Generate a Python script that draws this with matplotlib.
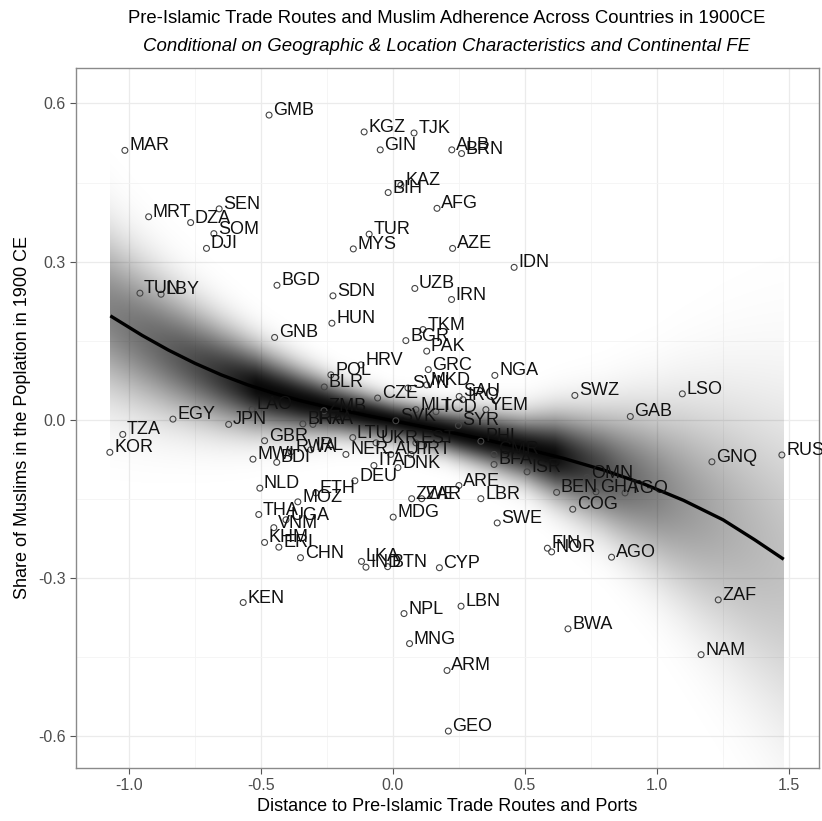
import numpy as np
import matplotlib
matplotlib.use("Agg")
import matplotlib.pyplot as plt

plt.rcParams['font.family'] = ['Liberation Sans', 'DejaVu Sans']
plt.rcParams['axes.unicode_minus'] = False

# country codes and (distance, muslim share)
iso = ["MAR", "GMB", "MRT", "DZA", "SEN", "SOM", "DJI", "KGZ", "TJK", "GIN",
       "ALB", "BRN", "KAZ", "BIH", "AFG", "TUR", "MYS", "AZE", "IDN", "IRN",
       "UZB", "SDN", "BGD", "GNB", "HUN", "TUN", "LBY", "TKM", "BGR", "PAK",
       "HRV", "POL", "BLR", "GRC", "NGA", "MKD", "SVN", "CZE", "SAU", "IRQ",
       "YEM", "SYR", "SWZ", "LSO", "GAB", "EGY", "TZA", "KOR", "JPN", "LAO",
       "GBR", "MWI", "BDI", "NLD", "THA", "KHM", "ERI", "CHN", "VNM", "UGA",
       "MOZ", "ETH", "DEU", "KEN", "PHL", "GNQ", "RUS", "OMN", "BEN", "GHA",
       "TGO", "COG", "SWE", "LBR", "ARE", "BFA", "ISR", "FIN", "NOR", "AGO",
       "ZAF", "CYP", "LBN", "NPL", "MNG", "ARM", "GEO", "BWA", "NAM", "BTN",
       "LKA", "IND", "MDG", "ZWE", "ZAR", "ZMB", "BRA", "FRA", "LTU", "RWA",
       "IRL", "NER", "SVK", "EST", "UKR", "PRT", "ITA", "DNK", "AUT", "MLI",
       "TCD", "CMR"]
dist = [-1.015, -0.469, -0.925, -0.766, -0.658, -0.678, -0.706, -0.109, 0.080, -0.048,
        0.223, 0.260, 0.030, -0.018, 0.167, -0.090, -0.150, 0.226, 0.459, 0.222,
        0.083, -0.227, -0.439, -0.448, -0.231, -0.958, -0.878, 0.114, 0.049, 0.128,
        -0.121, -0.235, -0.260, 0.134, 0.386, 0.128, 0.057, -0.058, 0.251, 0.265,
        0.352, 0.248, 0.689, 1.096, 0.899, -0.833, -1.023, -1.072, -0.622, -0.533,
        -0.486, -0.530, -0.440, -0.504, -0.508, -0.486, -0.432, -0.350, -0.451, -0.405,
        -0.360, -0.292, -0.144, -0.567, 0.333, 1.208, 1.473, 0.735, 0.620, 0.769,
        0.879, 0.681, 0.395, 0.333, 0.250, 0.383, 0.508, 0.585, 0.601, 0.828,
        1.232, 0.176, 0.258, 0.042, 0.063, 0.205, 0.210, 0.663, 1.167, -0.020,
        -0.119, -0.102, 0.001, 0.071, 0.109, -0.261, -0.341, -0.303, -0.152, -0.386,
        -0.311, -0.178, 0.011, 0.087, -0.064, 0.068, -0.072, 0.019, -0.008, 0.087,
        0.163, 0.383]
share = [0.511, 0.578, 0.385, 0.374, 0.400, 0.353, 0.325, 0.546, 0.544, 0.512,
         0.512, 0.505, 0.445, 0.431, 0.401, 0.352, 0.324, 0.325, 0.289, 0.228,
         0.249, 0.235, 0.255, 0.156, 0.183, 0.240, 0.238, 0.171, 0.150, 0.130,
         0.104, 0.085, 0.062, 0.095, 0.084, 0.066, 0.060, 0.041, 0.044, 0.038,
         0.019, -0.011, 0.046, 0.049, 0.006, 0.001, -0.028, -0.062, -0.009, 0.020,
         -0.040, -0.075, -0.081, -0.130, -0.180, -0.233, -0.242, -0.262, -0.205, -0.190,
         -0.156, -0.139, -0.116, -0.347, -0.041, -0.080, -0.067, -0.110, -0.138, -0.137,
         -0.139, -0.170, -0.196, -0.150, -0.125, -0.085, -0.099, -0.244, -0.251, -0.261,
         -0.342, -0.281, -0.354, -0.368, -0.425, -0.476, -0.591, -0.397, -0.446, -0.279,
         -0.269, -0.280, -0.185, -0.150, -0.150, 0.017, -0.008, -0.009, -0.034, -0.061,
         -0.057, -0.066, -0.002, -0.044, -0.044, -0.066, -0.087, -0.091, -0.066, 0.019,
         0.015, -0.066]

# fitted curve
fit_x = [-1.07, -0.95, -0.85, -0.75, -0.65, -0.55, -0.45, -0.35, -0.25, -0.1,
         0.05, 0.2, 0.35, 0.5, 0.65, 0.8, 0.95, 1.1, 1.25, 1.37, 1.48]
fit_y = [0.197, 0.160, 0.132, 0.107, 0.085, 0.066, 0.050, 0.036, 0.024, 0.008,
         -0.007, -0.022, -0.038, -0.055, -0.074, -0.096, -0.122, -0.153, -0.190, -0.228,
         -0.265]
# spread of the shaded band
sd_x = [-1.07, -0.8, -0.5, -0.2, 0.0, 0.2, 0.5, 0.8, 1.0, 1.2, 1.48]
sd_y = [0.10, 0.075, 0.05, 0.032, 0.026, 0.028, 0.04, 0.07, 0.10, 0.14, 0.20]

fig = plt.figure(figsize=(8.22, 8.21), dpi=100)
ax = fig.add_axes([0.0925, 0.0646, 0.904, 0.853])

xlim = (-1.2, 1.614)
ylim = (-0.661, 0.668)

# visually weighted band
gx = np.linspace(fit_x[0], fit_x[-1], 600)
gy = np.linspace(ylim[0], ylim[1], 600)
cy = np.interp(gx, fit_x, fit_y)
sd = np.interp(gx, sd_x, sd_y)
z = (gy[:, None] - cy[None, :]) / sd[None, :]
alpha = np.clip(0.05 / sd, 0, 0.97)[None, :] * np.exp(-0.5 * z ** 2)
img = np.zeros((len(gy), len(gx), 4))
img[..., 3] = alpha
ax.imshow(img, extent=(gx[0], gx[-1], gy[0], gy[-1]), origin='lower',
          aspect='auto', interpolation='bilinear', zorder=1)

ax.plot(fit_x, fit_y, color='black', lw=2.4, zorder=3, solid_capstyle='butt')

ax.scatter(dist, share, s=18, facecolor='none', edgecolor='#444444',
           linewidth=0.8, zorder=4)
for name, xv, yv in zip(iso, dist, share):
    ax.annotate(name, (xv, yv), xytext=(3, 0), textcoords='offset points',
                ha='left', va='baseline', fontsize=13, color='#111111', zorder=5)

ax.set_xlim(xlim)
ax.set_ylim(ylim)
ax.set_xticks([-1.0, -0.5, 0.0, 0.5, 1.0, 1.5])
ax.set_yticks([-0.6, -0.3, 0.0, 0.3, 0.6])
ax.set_xticks([-0.75, -0.25, 0.25, 0.75, 1.25], minor=True)
ax.set_yticks([-0.45, -0.15, 0.15, 0.45], minor=True)
ax.grid(True, which='major', color='#ebebeb', lw=0.9, zorder=0)
ax.grid(True, which='minor', color='#f4f4f4', lw=0.6, zorder=0)
ax.set_axisbelow(True)
ax.tick_params(which='major', length=4, color='#555555', labelsize=11.5,
               labelcolor='#4d4d4d')
ax.tick_params(which='minor', length=0)
for sp in ax.spines.values():
    sp.set_color('#8a8a8a')
    sp.set_linewidth(1.0)

ax.set_xlabel("Distance to Pre-Islamic Trade Routes and Ports", fontsize=13,
              labelpad=3)
ax.set_ylabel("Share of Muslims in the Poplation in 1900 CE", fontsize=13,
              labelpad=5)
fig.text(0.543, 0.978, "Pre-Islamic Trade Routes and Muslim Adherence Across Countries in 1900CE",
         ha='center', va='center', fontsize=13.3)
fig.text(0.543, 0.943, "Conditional on Geographic & Location Characteristics and Continental FE",
         ha='center', va='center', fontsize=13.4, style='italic')

fig.savefig("out.png", dpi=100)
